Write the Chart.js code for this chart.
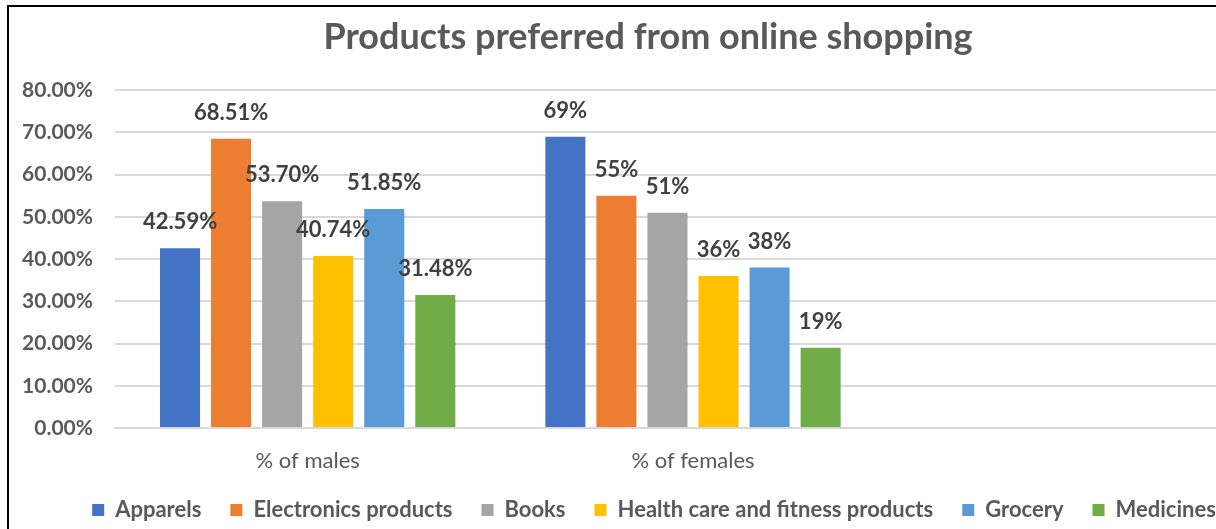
<!DOCTYPE html>
<html>
<head>
<meta charset="utf-8">
<script src="https://cdn.jsdelivr.net/npm/chart.js@4.4.1/dist/chart.umd.min.js"></script>
<style>
  html, body { margin: 0; padding: 0; background: #fff; overflow: hidden; }
  #wrap {
    position: absolute; left: 7px; top: 5px;
    border: 2px solid #000;
    width: 1290px; height: 540px;
  }
</style>
</head>
<body>
<div id="wrap"><canvas id="chart" width="1290" height="529"></canvas></div>
<script>
// categories (third slot is left blank on purpose)
const groups = ["% of males", "% of females", ""];
const decimals = [2, 0];

const products = ["Apparels", "Electronics products", "Books", "Health care and fitness products", "Grocery", "Medicines"];
const colors = ["#4472C4", "#ED7D31", "#A5A5A5", "#FFC000", "#5B9BD5", "#70AD47"];

// percent values per product: [males, females]
const apparels    = [42.59, 69];
const electronics = [68.51, 55];
const books       = [53.70, 51];
const health      = [40.74, 36];
const grocery     = [51.85, 38];
const medicines   = [31.48, 19];

const yTicks = [0, 10, 20, 30, 40, 50, 60, 70, 80];

const seriesData = [apparels, electronics, books, health, grocery, medicines];
const grey = "#595959";
const fontFamily = "Lato, 'Open Sans', sans-serif";

// value labels above each bar
const barLabels = {
  id: "barLabels",
  afterDatasetsDraw(chart) {
    const ctx = chart.ctx;
    ctx.save();
    ctx.font = "bold 22px " + fontFamily;
    ctx.fillStyle = "#404040";
    ctx.textAlign = "center";
    ctx.textBaseline = "middle";
    chart.data.datasets.forEach((ds, di) => {
      chart.getDatasetMeta(di).data.forEach((bar, i) => {
        const v = ds.data[i];
        if (v == null) return;
        ctx.fillText(v.toFixed(decimals[i]) + "%", bar.x, bar.y - 26);
      });
    });
    ctx.restore();
  }
};

// the right padding keeps the plot narrow; nudge title and legend back to the middle
const recenter = {
  id: "recenter",
  afterLayout(chart) {
    chart.titleBlock.left += 8;
    chart.titleBlock.right += 8;
    chart.legend.left += 14;
    chart.legend.right += 14;
    chart.legend.top -= 5;
    chart.legend.bottom -= 5;
  }
};

new Chart(document.getElementById("chart"), {
  type: "bar",
  data: {
    labels: groups,
    datasets: products.map((name, k) => ({
      label: name,
      data: seriesData[k],
      backgroundColor: colors[k],
      borderWidth: 0,
      categoryPercentage: 0.795,
      barPercentage: 0.784
    }))
  },
  options: {
    responsive: false,
    devicePixelRatio: 1,
    animation: false,
    layout: { padding: { left: 0, right: 28, top: 0, bottom: 0 } },
    plugins: {
      title: {
        display: true,
        text: "Products preferred from online shopping",
        color: grey,
        font: { family: fontFamily, size: 36, weight: "bold" },
        padding: { top: 9, bottom: 31 }
      },
      legend: {
        position: "bottom",
        labels: {
          boxWidth: 12,
          boxHeight: 12,
          padding: 29,
          color: grey,
          font: { family: fontFamily, size: 22, weight: "bold" }
        }
      },
      tooltip: { enabled: false }
    },
    scales: {
      x: {
        grid: { display: false, drawTicks: false },
        border: { color: "#D9D9D9", width: 2 },
        afterFit(scale) { scale.height = 47; },
        ticks: {
          color: grey,
          padding: 20,
          font: { family: fontFamily, size: 22 }
        }
      },
      y: {
        min: yTicks[0],
        max: yTicks[yTicks.length - 1],
        afterBuildTicks(scale) { scale.ticks = yTicks.map(v => ({ value: v })); },
        afterFit(scale) { scale.width = 106; },
        grid: { color: "#D9D9D9", lineWidth: 2, drawTicks: false },
        border: { display: false },
        ticks: {
          color: grey,
          padding: 22,
          font: { family: fontFamily, size: 21, weight: "bold" },
          callback: v => v.toFixed(2) + "%"
        }
      }
    }
  },
  plugins: [barLabels, recenter]
});
</script>
</body>
</html>
